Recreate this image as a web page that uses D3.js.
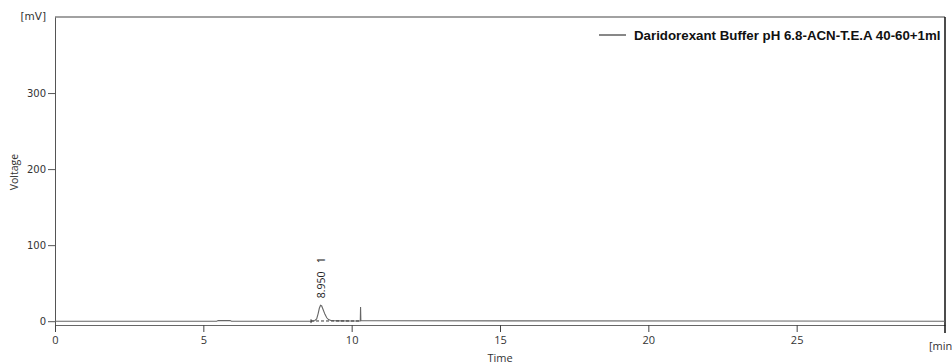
<!DOCTYPE html>
<html>
<head>
<meta charset="utf-8">
<script src="https://cdn.jsdelivr.net/npm/d3@7"></script>
<style>
  body { margin: 0; background: #fff; }
  svg { display: block; }
</style>
</head>
<body>
<div id="chart"></div>
<script>
// chromatogram trace (min, mV)
var traceTime = [0, 5.45, 5.5, 5.7, 5.9, 5.95, 8.60, 8.75, 8.82, 8.87, 8.91, 8.95, 8.99, 9.04, 9.10, 9.16, 9.22, 9.30, 9.40, 9.60, 10.0, 10.29, 10.30, 10.31, 10.65, 30];
var traceVolt = [0, 0, 0.8, 1.0, 0.8, 0, 0, 0.6, 3.0, 10.0, 17.0, 21.0, 20.0, 15.0, 9.0, 4.5, 2.2, 1.0, 0.6, 0.4, 0.3, 0.3, 18.5, 0.6, 0.6, 0];
// integration marks
var markTime = [8.63];
var markLo = [-2.5];
var markHi = [2.5];
var baseFrom = [8.63];
var baseTo = [10.30];
var baseLevel = [0.3];
// peak table
var peakTime = [8.950];
var peakNo = [1];
var peakApex = [21.0];

var xTicks = [0, 5, 10, 15, 20, 25];
var yTicks = [0, 100, 200, 300];
var legendLabel = "Daridorexant Buffer pH 6.8-ACN-T.E.A 40-60+1ml";

var W = 952, H = 364;
var plotL = 55, plotR = 945, plotT = 17, plotB = 325;

var svg = d3.select("#chart").append("svg")
  .attr("width", W).attr("height", H);

var x = d3.scaleLinear().domain([0, 30]).range([plotL, plotR]);
var y = d3.scaleLinear().domain([-5, 400]).range([plotB, plotT]);

svg.append("clipPath").attr("id", "plotclip")
  .append("rect").attr("x", plotL).attr("y", 0).attr("width", plotR - plotL).attr("height", plotB);

// axes
var yAxis = svg.append("g")
  .attr("transform", "translate(" + plotL + ",0)")
  .call(d3.axisLeft(y).tickValues(yTicks).tickSize(7).tickSizeOuter(0).tickPadding(2));
yAxis.select(".domain").attr("stroke", "#555");
yAxis.selectAll(".tick line").attr("stroke", "#555");
yAxis.selectAll("text").attr("font-family", "DejaVu Sans").attr("font-size", 10).attr("fill", "#333");

var xAxis = svg.append("g")
  .attr("transform", "translate(0," + plotB + ")")
  .call(d3.axisBottom(x).tickValues(xTicks).tickSize(7).tickSizeOuter(0).tickPadding(4));
xAxis.select(".domain").attr("stroke", "#666");
xAxis.selectAll(".tick line").attr("stroke", "#444");
xAxis.selectAll("text").attr("font-family", "Open Sans").attr("font-size", 11).attr("fill", "#333");

// frame top + right
svg.append("line").attr("x1", plotL).attr("x2", plotR).attr("y1", plotT).attr("y2", plotT)
  .attr("stroke", "#444").attr("stroke-width", 1.2);
svg.append("line").attr("x1", plotR).attr("x2", plotR).attr("y1", plotT).attr("y2", plotB + 8)
  .attr("stroke", "#111").attr("stroke-width", 1.5);

// axis titles
svg.append("text").attr("x", 46).attr("y", 20).attr("text-anchor", "end")
  .attr("font-family", "DejaVu Sans").attr("font-size", 10.5).attr("fill", "#333").text("[mV]");
svg.append("text").attr("transform", "translate(18,172) rotate(-90)").attr("text-anchor", "middle")
  .attr("font-family", "Open Sans").attr("font-size", 10.5).attr("fill", "#333").text("Voltage");
svg.append("text").attr("x", 500).attr("y", 362).attr("text-anchor", "middle")
  .attr("font-family", "Open Sans").attr("font-size", 11).attr("fill", "#333").text("Time");
svg.append("text").attr("x", 929).attr("y", 350)
  .attr("font-family", "Open Sans").attr("font-size", 11).attr("fill", "#333").text("[min]");

// trace
var traceData = traceTime.map(function(t, i) { return {t: t, v: traceVolt[i]}; });
var line = d3.line().x(function(d) { return x(d.t); }).y(function(d) { return y(d.v); });
svg.append("path").datum(traceData)
  .attr("d", line).attr("fill", "none").attr("stroke", "#666").attr("stroke-width", 1.1);

// integration baseline and marks
baseFrom.forEach(function(b, i) {
  svg.append("line").attr("x1", x(b)).attr("x2", x(baseTo[i]))
    .attr("y1", y(baseLevel[i])).attr("y2", y(baseLevel[i]))
    .attr("stroke", "#333").attr("stroke-dasharray", "3,2");
});
markTime.forEach(function(m, i) {
  svg.append("line").attr("x1", x(m)).attr("x2", x(m)).attr("y1", y(markLo[i])).attr("y2", y(markHi[i]))
    .attr("stroke", "#333");
});

// peak labels
peakTime.forEach(function(p, i) {
  svg.append("text")
    .attr("transform", "translate(" + (x(p) + 4) + "," + (y(peakApex[i]) - 7) + ") rotate(-90)")
    .attr("font-family", "Open Sans").attr("font-size", 10.5).attr("fill", "#222")
    .attr("xml:space", "preserve")
    .text(d3.format(".3f")(p) + "   " + peakNo[i]);
});

// legend
var lg = svg.append("g").attr("clip-path", "url(#plotclip)");
lg.append("line").attr("x1", 599).attr("x2", 626).attr("y1", 35).attr("y2", 35)
  .attr("stroke", "#111").attr("stroke-width", 1);
lg.append("text").attr("x", 634).attr("y", 39.5)
  .attr("font-family", "Liberation Sans").attr("font-weight", "bold").attr("font-size", 13.3)
  .attr("fill", "#111").text(legendLabel);
</script>
</body>
</html>
